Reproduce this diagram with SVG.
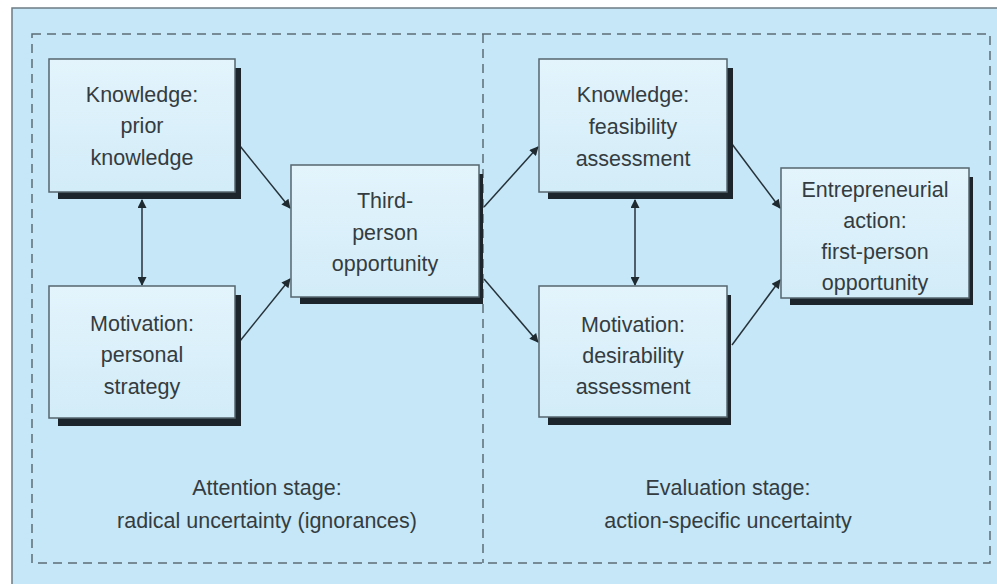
<svg xmlns="http://www.w3.org/2000/svg" width="997" height="584" viewBox="0 0 997 584">
<defs>
<linearGradient id="boxg" x1="0" y1="0" x2="0" y2="1">
<stop offset="0" stop-color="#e3f4fc"/>
<stop offset="1" stop-color="#d2ecf8"/>
</linearGradient>
<marker id="ah" viewBox="0 0 10 10" refX="9" refY="5" markerWidth="11" markerHeight="9" markerUnits="userSpaceOnUse" orient="auto-start-reverse">
<path d="M0,0 L10,5 L0,10 z" fill="#1f2a30"/>
</marker>
</defs>
<style>
.shadow{fill:#1c252b}
.box{fill:url(#boxg);stroke:#56666e;stroke-width:1.5}
.t{font-family:"Liberation Sans",Arial,sans-serif;font-size:21.5px;fill:#343c40;text-anchor:middle}
.dash{fill:none;stroke:#5d6d75;stroke-width:1.5;stroke-dasharray:9 6}
.conn{stroke:#26323a;stroke-width:1.5;fill:none;marker-end:url(#ah)}
.bi{marker-start:url(#ah)}
</style>
<rect x="0" y="0" width="997" height="584" fill="#ffffff"/>
<rect x="12" y="8" width="995" height="590" fill="#c6e7f8" stroke="#6c7c84" stroke-width="1.5"/>
<g id="stages">
<rect class="dash" x="32" y="34" width="958" height="529"/>
<line class="dash" x1="483" y1="34" x2="483" y2="563"/>
<text class="t" x="267" y="495">Attention stage:</text>
<text class="t" x="267" y="528">radical uncertainty (ignorances)</text>
<text class="t" x="728" y="495">Evaluation stage:</text>
<text class="t" x="728" y="528">action-specific uncertainty</text>
</g>
<g id="connectors">
<line class="conn" x1="240" y1="146" x2="290" y2="208"/>
<line class="conn" x1="240" y1="341" x2="290" y2="279"/>
<line class="conn bi" x1="142" y1="200" x2="142" y2="285"/>
<line class="conn" x1="484" y1="207" x2="538" y2="147"/>
<line class="conn" x1="484" y1="279" x2="538" y2="342"/>
<line class="conn bi" x1="635" y1="200" x2="635" y2="285"/>
<line class="conn" x1="732" y1="144" x2="780" y2="208"/>
<line class="conn" x1="732" y1="345" x2="780" y2="280"/>
</g>
<g id="n1">
<rect class="shadow" x="58" y="68" width="183" height="131"/>
<rect class="box" x="49" y="59" width="186" height="133"/>
<text class="t" x="142" y="102">Knowledge:</text>
<text class="t" x="142" y="133">prior</text>
<text class="t" x="142" y="165">knowledge</text>
</g>
<g id="n2">
<rect class="shadow" x="58" y="295" width="183" height="131"/>
<rect class="box" x="49" y="286" width="186" height="132"/>
<text class="t" x="142" y="331">Motivation:</text>
<text class="t" x="142" y="362">personal</text>
<text class="t" x="142" y="394">strategy</text>
</g>
<g id="n3">
<rect class="shadow" x="300" y="174" width="183" height="130"/>
<rect class="box" x="291" y="165" width="188" height="132"/>
<text class="t" x="385" y="208">Third-</text>
<text class="t" x="385" y="240">person</text>
<text class="t" x="385" y="271">opportunity</text>
</g>
<g id="n4">
<rect class="shadow" x="548" y="68" width="185" height="131"/>
<rect class="box" x="539" y="59" width="188" height="133"/>
<text class="t" x="633" y="102">Knowledge:</text>
<text class="t" x="633" y="134">feasibility</text>
<text class="t" x="633" y="166">assessment</text>
</g>
<g id="n5">
<rect class="shadow" x="548" y="295" width="183" height="130"/>
<rect class="box" x="539" y="286" width="188" height="131"/>
<text class="t" x="633" y="332">Motivation:</text>
<text class="t" x="633" y="363">desirability</text>
<text class="t" x="633" y="394">assessment</text>
</g>
<g id="n6">
<rect class="shadow" x="790" y="177" width="183" height="128"/>
<rect class="box" x="781" y="168" width="188" height="130"/>
<text class="t" x="875" y="197">Entrepreneurial</text>
<text class="t" x="875" y="228">action:</text>
<text class="t" x="875" y="259">first-person</text>
<text class="t" x="875" y="290">opportunity</text>
</g>
</svg>
